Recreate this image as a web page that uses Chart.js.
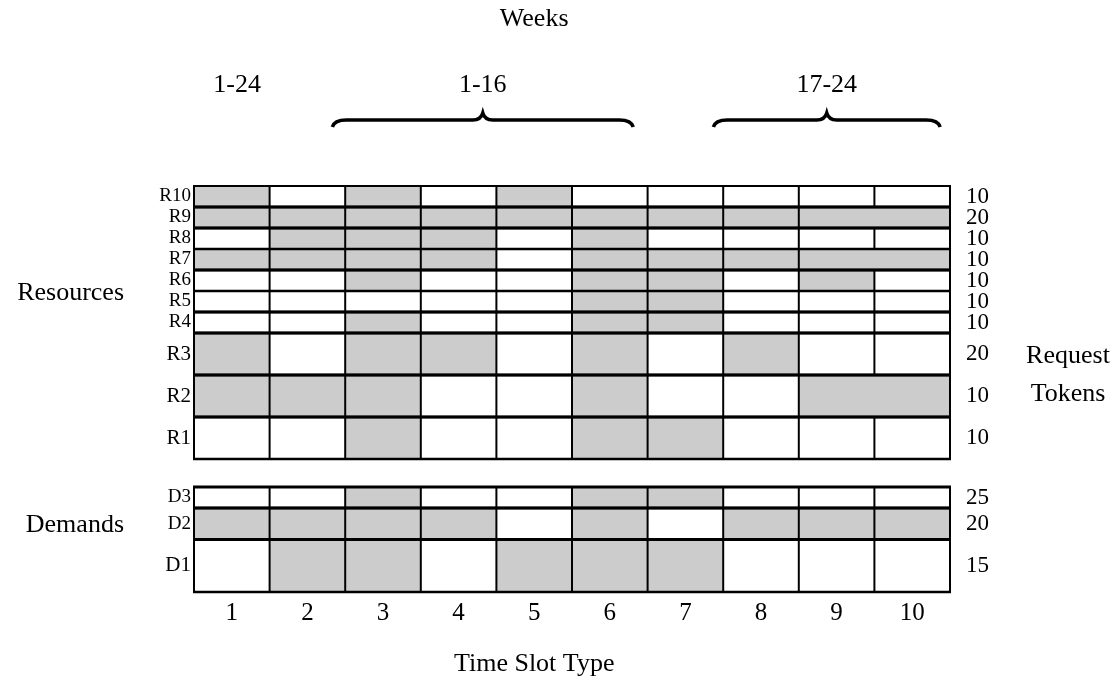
<!DOCTYPE html>
<html>
<head>
<meta charset="utf-8">
<script src="https://cdn.jsdelivr.net/npm/chart.js@4.4.1/dist/chart.umd.min.js"></script>
<style>
  html, body { margin: 0; padding: 0; background: #fff; }
  #wrap { width: 1120px; height: 679px; }
</style>
</head>
<body>
<div id="wrap"><canvas id="slotChart"></canvas></div>
<script>
// columns
const slotTypes = ["1", "2", "3", "4", "5", "6", "7", "8", "9", "10"];

// rows, bottom to top
const rowNames = ["D1", "D2", "D3", "R1", "R2", "R3", "R4", "R5", "R6", "R7", "R8", "R9", "R10"];
const requestTokens = ["15", "20", "25", "10", "10", "20", "10", "10", "10", "10", "10", "20", "10"];

// shaded slot types per row
const shadedD1 = [2, 3, 5, 6, 7];
const shadedD2 = [1, 2, 3, 4, 6, 8, 9, 10];
const shadedD3 = [3, 6, 7];
const shadedR1 = [3, 6, 7];
const shadedR2 = [1, 2, 3, 6, 9, 10];
const shadedR3 = [1, 3, 4, 6, 8];
const shadedR4 = [3, 6, 7];
const shadedR5 = [6, 7];
const shadedR6 = [3, 6, 7, 9];
const shadedR7 = [1, 2, 3, 4, 6, 7, 8, 9, 10];
const shadedR8 = [2, 3, 4, 6];
const shadedR9 = [1, 2, 3, 4, 5, 6, 7, 8, 9, 10];
const shadedR10 = [1, 3, 5];

// cells 9 and 10 joined (no divider) in these rows
const joinedRows = ["R2", "R7", "R9"];

const weekGroups = ["1-24", "1-16", "17-24"];

// layout
const rowHeights = [2.5, 1.5, 1, 2, 2, 2, 1, 1, 1, 1, 1, 1, 1];
const gapAboveDemands = 4 / 3;
const serif = "'Liberation Serif', 'Times New Roman', serif";

const shaded = [shadedD1, shadedD2, shadedD3, shadedR1, shadedR2, shadedR3, shadedR4,
  shadedR5, shadedR6, shadedR7, shadedR8, shadedR9, shadedR10];

const rowBottoms = [];
const rowTops = [];
let acc = 0;
rowNames.forEach((name, i) => {
  rowBottoms.push(acc);
  acc += rowHeights[i];
  rowTops.push(acc);
  if (name === "D3") acc += gapAboveDemands;
});
const yMax = acc;
const rowCenters = rowNames.map((n, i) => (rowBottoms[i] + rowTops[i]) / 2);

const datasets = rowNames.map((name, i) => ({
  label: name,
  data: slotTypes.map((s, k) => shaded[i].includes(k + 1) ? [rowBottoms[i], rowTops[i]] : null),
  backgroundColor: "#cccccc",
  borderWidth: 0,
  grouped: false,
  categoryPercentage: 1,
  barPercentage: 1
}));

function drawBrace(ctx, x0, x1, yb) {
  const xm = (x0 + x1) / 2;
  ctx.beginPath();
  ctx.moveTo(x0, yb + 7);
  ctx.quadraticCurveTo(x0 + 2, yb, x0 + 14, yb);
  ctx.lineTo(xm - 10, yb);
  ctx.quadraticCurveTo(xm - 2, yb, xm, yb - 7);
  ctx.quadraticCurveTo(xm + 2, yb, xm + 10, yb);
  ctx.lineTo(x1 - 14, yb);
  ctx.quadraticCurveTo(x1 - 2, yb, x1, yb + 7);
  ctx.stroke();
}

const gridAndText = {
  id: "gridAndText",
  afterDatasetsDraw(chart) {
    const { ctx, scales: { x, y } } = chart;
    const half = (x.getPixelForValue(1) - x.getPixelForValue(0)) / 2;
    const edge = k => x.getPixelForValue(k) - half;

    ctx.save();
    ctx.strokeStyle = "#000";

    rowNames.forEach((name, i) => {
      const yt = y.getPixelForValue(rowTops[i]);
      const yb = y.getPixelForValue(rowBottoms[i]);
      // horizontal edges
      ctx.lineWidth = (name === "R10" || name === "R7" || name === "R5") ? 2 : 3;
      ctx.beginPath();
      ctx.moveTo(edge(0) - 1, yt);
      ctx.lineTo(edge(10) + 1, yt);
      ctx.stroke();
      ctx.lineWidth = 2.5;
      ctx.beginPath();
      ctx.moveTo(edge(0) - 1, yb);
      ctx.lineTo(edge(10) + 1, yb);
      ctx.stroke();
      // vertical dividers
      ctx.lineWidth = 2;
      for (let k = 0; k <= 10; k++) {
        if (k === 9 && joinedRows.includes(name)) continue;
        ctx.beginPath();
        ctx.moveTo(edge(k), yt);
        ctx.lineTo(edge(k), yb);
        ctx.stroke();
      }
    });

    // header
    ctx.fillStyle = "#000";
    ctx.font = "26px " + serif;
    ctx.textAlign = "center";
    ctx.textBaseline = "alphabetic";
    ctx.fillText("Weeks", x.getPixelForValue(4), 26);

    const braceSpans = [[1.83, 5.81], [6.87, 9.87]];
    const px = v => edge(0) + v * half * 2;
    ctx.fillText(weekGroups[0], px(0.57), 92);
    ctx.lineWidth = 3.5;
    braceSpans.forEach((sp, j) => {
      drawBrace(ctx, px(sp[0]), px(sp[1]), 120);
      ctx.fillText(weekGroups[j + 1], px((sp[0] + sp[1]) / 2), 92);
    });

    // side labels
    ctx.textAlign = "right";
    ctx.fillText("Resources", 124, y.getPixelForValue(rowTops[7]) + 9);
    ctx.fillText("Demands", 124, y.getPixelForValue(rowCenters[1]) + 8);
    ctx.textAlign = "center";
    const splitY = y.getPixelForValue(rowTops[4]);
    ctx.fillText("Request", 1068, splitY - 12);
    ctx.fillText("Tokens", 1068, splitY + 26);

    ctx.fillText("Time Slot Type", x.getPixelForValue(4), 671);
    ctx.restore();
  }
};

new Chart(document.getElementById("slotChart"), {
  type: "bar",
  data: {
    labels: slotTypes,
    datasets: datasets
  },
  options: {
    responsive: true,
    maintainAspectRatio: false,
    animation: false,
    layout: {
      padding: { top: 186, left: 0, right: 0, bottom: 0 }
    },
    plugins: {
      legend: { display: false },
      tooltip: { enabled: false }
    },
    scales: {
      x: {
        type: "category",
        position: "bottom",
        grid: { display: false, drawTicks: false },
        border: { display: false },
        ticks: {
          color: "#000",
          padding: 6,
          font: { family: serif, size: 25 }
        },
        afterFit(scale) { scale.height = 87; }
      },
      y: {
        type: "linear",
        position: "left",
        min: 0,
        max: yMax,
        grid: { display: false, drawTicks: false },
        border: { display: false },
        afterBuildTicks(scale) { scale.ticks = rowCenters.map(v => ({ value: v })); },
        ticks: {
          autoSkip: false,
          color: "#000",
          padding: 3,
          callback: (value, index) => rowNames[index],
          font: c => ({ family: serif, size: rowHeights[c.index] >= 2 ? 21 : 19 })
        },
        afterFit(scale) { scale.width = 194; }
      },
      tokens: {
        type: "linear",
        position: "right",
        min: 0,
        max: yMax,
        grid: { display: false, drawTicks: false },
        border: { display: false },
        afterBuildTicks(scale) { scale.ticks = rowCenters.map(v => ({ value: v })); },
        ticks: {
          autoSkip: false,
          color: "#000",
          padding: 16,
          callback: (value, index) => requestTokens[index],
          font: { family: serif, size: 23 }
        },
        afterFit(scale) { scale.width = 170; }
      }
    }
  },
  plugins: [gridAndText]
});
</script>
</body>
</html>
